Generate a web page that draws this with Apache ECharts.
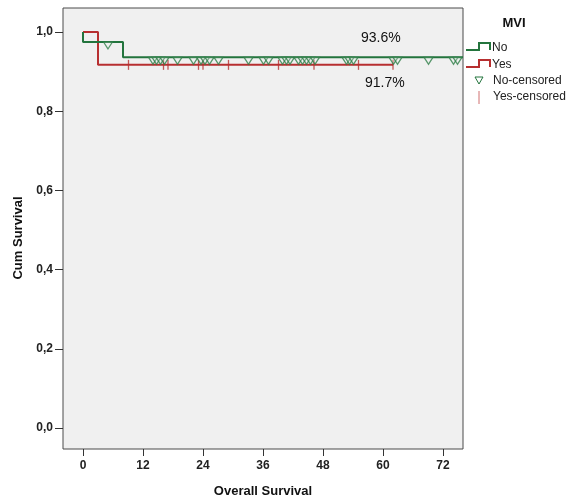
<!DOCTYPE html>
<html><head><meta charset="utf-8">
<script src="https://cdn.jsdelivr.net/npm/echarts@6/dist/echarts.min.js"></script>
<style>html,body{margin:0;padding:0;background:#fff}#c{width:575px;height:502px}</style>
</head><body><div id="c"></div>
<script>
// Kaplan-Meier step data (time in months, cumulative survival)
const noTimes = [0, 0, 8, 76];
const noSurv = [1.0, 0.975, 0.936, 0.936];
const yesTimes = [0, 3, 62];
const yesSurv = [1.0, 0.917, 0.917];
// censored observation times
const noCensored = [5, 14, 14.7, 15.5, 16.3, 18.9, 22.1, 23.6, 24.4, 25.3, 27.1, 33.1, 36.1, 37.1, 39.9, 40.7, 41.4, 43.1, 43.9, 44.7, 45.5, 46.4, 52.7, 53.3, 54.1, 62.1, 62.9, 69.1, 74.1, 74.9];
const yesCensored = [9.1, 16.1, 17.0, 23.1, 24.0, 29.1, 39.1, 46.2, 55.1, 62];
const xTicks = [0, 12, 24, 36, 48, 60, 72];
const yTicks = [0, 0.2, 0.4, 0.6, 0.8, 1.0];
const endLabels = ['93.6%', '91.7%'];

const GREEN = '#23743d', RED = '#b72f30';
function survAt(times, surv, t) {
  let s = surv[0];
  for (let i = 0; i < times.length; i++) { if (times[i] <= t) s = surv[i]; }
  return s;
}
const stepData = (ts, ss) => ts.map((t, i) => [t, ss[i]]);
const font = 'Liberation Sans, Arial, sans-serif';

const chart = echarts.init(document.getElementById('c'), null, {renderer: 'canvas'});
chart.setOption({
  backgroundColor: '#fff',
  animation: false,
  grid: {left: 63, top: 8, right: 112, bottom: 53, outerBoundsMode: 'none', containLabel: false,
    show: true, backgroundColor: '#f0f0f0', borderColor: '#4a4a4a', borderWidth: 1},
  xAxis: {
    type: 'value', min: -4, max: 76,
    name: 'Overall Survival', nameLocation: 'middle', nameGap: 36,
    nameTextStyle: {fontFamily: font, fontWeight: 'bold', fontSize: 13, color: '#111'},
    axisLine: {show: false, onZero: false},
    axisTick: {show: true, inside: false, customValues: xTicks, length: 7, lineStyle: {color: '#333'}},
    axisLabel: {customValues: xTicks, fontFamily: font, fontWeight: 'bold', fontSize: 12, color: '#222', margin: 11},
    splitLine: {show: false}
  },
  yAxis: {
    type: 'value', min: -0.053, max: 1.0606,
    axisLine: {show: false, onZero: false},
    axisTick: {show: true, inside: false, customValues: yTicks, length: 8, lineStyle: {color: '#333'}},
    axisLabel: {customValues: yTicks, fontFamily: font, fontWeight: 'bold', fontSize: 12, color: '#222', margin: 10,
      formatter: v => v.toFixed(1).replace('.', ',')},
    splitLine: {show: false}
  },
  series: [
    {type: 'line', step: 'end', data: stepData(yesTimes, yesSurv), symbol: 'none', lineStyle: {color: RED, width: 2}, z: 3},
    {type: 'line', step: 'end', data: stepData(noTimes, noSurv), symbol: 'none', lineStyle: {color: GREEN, width: 2}, z: 4},
    {type: 'scatter', data: yesCensored.map(t => [t, survAt(yesTimes, yesSurv, t)]),
      symbol: 'rect', symbolSize: [1.3, 10], itemStyle: {color: RED}, z: 5},
    {type: 'scatter', data: noCensored.map(t => [t, survAt(noTimes, noSurv, t)]),
      symbol: 'triangle', symbolRotate: 180, symbolSize: [9, 7], symbolOffset: [0, 3.5],
      itemStyle: {color: 'rgba(240,240,240,0.3)', borderColor: '#2f8048', borderWidth: 1.2}, z: 6}
  ],
  graphic: [
    {type: 'text', left: 361, top: 31, style: {text: endLabels[0], fontFamily: font, fontSize: 14, fill: '#111'}},
    {type: 'text', left: 365, top: 76, style: {text: endLabels[1], fontFamily: font, fontSize: 14, fill: '#111'}},
    {type: 'text', x: 18, y: 238, rotation: Math.PI / 2, style: {text: 'Cum Survival', fontFamily: font, fontWeight: 'bold', fontSize: 13, fill: '#111', align: 'center', verticalAlign: 'middle'}},
    {type: 'text', x: 514, y: 23, style: {text: 'MVI', fontFamily: font, fontWeight: 'bold', fontSize: 13, fill: '#111', align: 'center', verticalAlign: 'middle'}},
    {type: 'polyline', shape: {points: [[466, 50], [479, 50], [479, 43], [490, 43], [490, 50]]}, style: {stroke: GREEN, lineWidth: 2, fill: 'none'}},
    {type: 'text', x: 492, y: 48, style: {text: 'No', fontFamily: font, fontSize: 12, fill: '#222', verticalAlign: 'middle'}},
    {type: 'polyline', shape: {points: [[466, 67], [479, 67], [479, 60], [490, 60], [490, 67]]}, style: {stroke: RED, lineWidth: 2, fill: 'none'}},
    {type: 'text', x: 492, y: 65, style: {text: 'Yes', fontFamily: font, fontSize: 12, fill: '#222', verticalAlign: 'middle'}},
    {type: 'polygon', shape: {points: [[475, 77], [483, 77], [479, 84]]}, style: {stroke: GREEN, lineWidth: 1, fill: 'none'}},
    {type: 'text', x: 493, y: 81, style: {text: 'No-censored', fontFamily: font, fontSize: 12, fill: '#222', verticalAlign: 'middle'}},
    {type: 'line', shape: {x1: 479, y1: 91, x2: 479, y2: 104}, style: {stroke: '#d07070', lineWidth: 1}},
    {type: 'text', x: 493, y: 97, style: {text: 'Yes-censored', fontFamily: font, fontSize: 12, fill: '#222', verticalAlign: 'middle'}}
  ]
});
</script></body></html>
